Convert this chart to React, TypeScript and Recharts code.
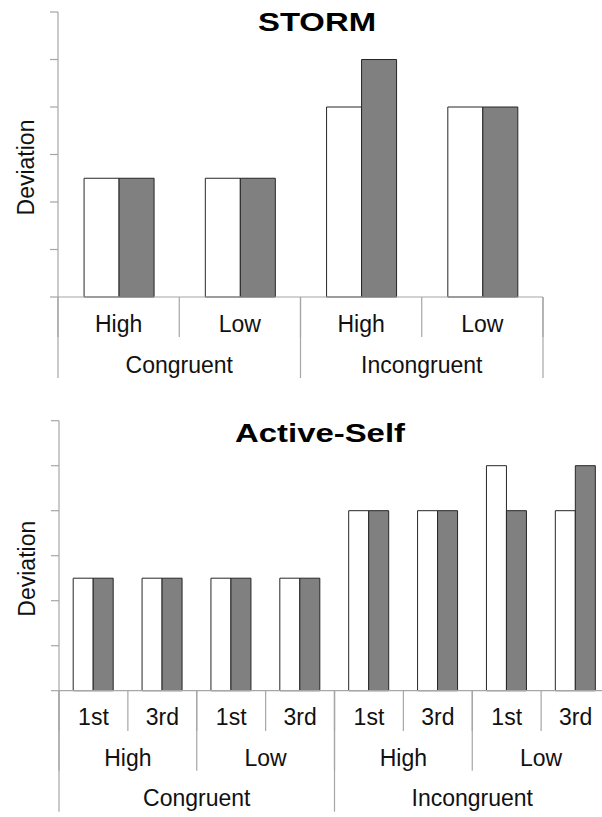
import React from 'react';
import { BarChart, Bar, XAxis, YAxis, Label } from 'recharts';

// STORM panel
const stormLevel = ['High', 'Low', 'High', 'Low'];
const stormCongruency = ['Congruent', 'Congruent', 'Incongruent', 'Incongruent'];
const stormWhite = [2.5, 2.5, 4, 4];
const stormGray = [2.5, 2.5, 5, 4];

// Active-Self panel
const selfPerspective = ['1st', '3rd', '1st', '3rd', '1st', '3rd', '1st', '3rd'];
const selfLevel = ['High', 'High', 'Low', 'Low', 'High', 'High', 'Low', 'Low'];
const selfCongruency = [
  'Congruent', 'Congruent', 'Congruent', 'Congruent',
  'Incongruent', 'Incongruent', 'Incongruent', 'Incongruent',
];
const selfWhite = [2.5, 2.5, 2.5, 2.5, 4, 4, 5, 4];
const selfGray = [2.5, 2.5, 2.5, 2.5, 4, 4, 4, 5];

const yTicks = [0, 1, 2, 3, 4, 5, 6];

const AXIS = '#a6a6a6';
const EDGE = '#262626';
const GREY = '#808080';
const FONT = '"Liberation Sans", Arial, Helvetica, sans-serif';

const stormData = stormLevel.map((label, i) => ({
  label,
  white: stormWhite[i],
  gray: stormGray[i],
}));

const selfData = selfPerspective.map((label, i) => ({
  label,
  white: selfWhite[i],
  gray: selfGray[i],
}));

// nested category axis: labels per level (inner first), separators between groups
function makeTick(levels: string[][], band: number, lineDrop: number[], textDrop: number[]) {
  const n = levels[0].length;
  const keyAt = (L: number, j: number) => levels.slice(L).map((l) => l[j]).join('|');
  return (props: any) => {
    const { x, y, payload } = props;
    const i: number = props.index ?? payload.index;
    const half = band / 2;
    const parts: React.ReactNode[] = [];
    levels.forEach((labels, L) => {
      const k = keyAt(L, i);
      if (i > 0 && keyAt(L, i - 1) === k) return;
      let run = 1;
      while (i + run < n && keyAt(L, i + run) === k) run++;
      const left = x - half;
      parts.push(
        <line key={'l' + L} x1={left} x2={left} y1={y} y2={y + lineDrop[L]} stroke={AXIS} strokeWidth={1.2} />
      );
      if (i + run === n) {
        const right = left + run * band;
        parts.push(
          <line key={'r' + L} x1={right} x2={right} y1={y} y2={y + lineDrop[L]} stroke={AXIS} strokeWidth={1.2} />
        );
      }
      parts.push(
        <text
          key={'t' + L}
          x={left + (run * band) / 2}
          y={y + textDrop[L]}
          textAnchor="middle"
          fontSize={23}
          fontFamily={FONT}
          fill="#111"
        >
          {labels[i]}
        </text>
      );
    });
    return <g>{parts}</g>;
  };
}

const noTick = () => <g />;

const deviationLabel = (dy: number) => (props: any) => {
  const vb = props.viewBox || { x: 0, y: 0, width: 0, height: 0 };
  const tx = vb.x + 26;
  const ty = vb.y + vb.height / 2 + dy;
  return (
    <text
      x={tx}
      y={ty}
      transform={`rotate(-90, ${tx}, ${ty})`}
      textAnchor="middle"
      fontSize={23}
      fontFamily={FONT}
      fill="#111"
    >
      Deviation
    </text>
  );
};

const STORM_BAND = (602 - 8 - 50 - 59) / stormData.length;
const SELF_BAND = (620 - 9 - 50 - 10) / selfData.length;

export default function App() {
  return (
    <div
      style={{
        position: 'absolute',
        top: 0,
        left: 0,
        width: 602,
        height: 817,
        overflow: 'hidden',
        background: '#fff',
        fontFamily: FONT,
      }}
    >
      <div style={{ position: 'absolute', top: 0, left: 0 }}>
        <BarChart
          width={602}
          height={400}
          data={stormData}
          margin={{ top: 12, right: 59, bottom: 13, left: 8 }}
          barCategoryGap="21.5%"
          barGap={0}
        >
          <XAxis
            dataKey="label"
            interval={0}
            height={90}
            tickSize={0}
            tickMargin={0}
            tickLine={false}
            axisLine={{ stroke: AXIS, strokeWidth: 1.2 }}
            tick={makeTick([stormLevel, stormCongruency], STORM_BAND, [40, 81], [35, 76])}
          />
          <YAxis
            type="number"
            domain={[0, 6]}
            ticks={yTicks}
            interval={0}
            width={50}
            tickSize={8}
            tick={noTick}
            tickLine={{ stroke: AXIS, strokeWidth: 1.2 }}
            axisLine={{ stroke: AXIS, strokeWidth: 1.2 }}
          >
            <Label content={deviationLabel(13)} />
          </YAxis>
          <Bar dataKey="white" fill="#ffffff" stroke={EDGE} strokeWidth={1} isAnimationActive={false} />
          <Bar dataKey="gray" fill={GREY} stroke={EDGE} strokeWidth={1} isAnimationActive={false} />
        </BarChart>
      </div>

      <div style={{ position: 'absolute', top: 400, left: 0 }}>
        <BarChart
          width={620}
          height={417}
          data={selfData}
          margin={{ top: 20.7, right: 10, bottom: 6.3, left: 9 }}
          barCategoryGap="20.6%"
          barGap={0}
        >
          <XAxis
            dataKey="label"
            interval={0}
            height={120}
            tickSize={0}
            tickMargin={0}
            tickLine={false}
            axisLine={{ stroke: AXIS, strokeWidth: 1.2 }}
            tick={makeTick(
              [selfPerspective, selfLevel, selfCongruency],
              SELF_BAND,
              [40.3, 80, 121],
              [34.5, 75, 115]
            )}
          />
          <YAxis
            type="number"
            domain={[0, 6]}
            ticks={yTicks}
            interval={0}
            width={50}
            tickSize={8}
            tick={noTick}
            tickLine={{ stroke: AXIS, strokeWidth: 1.2 }}
            axisLine={{ stroke: AXIS, strokeWidth: 1.2 }}
          >
            <Label content={deviationLabel(13)} />
          </YAxis>
          <Bar dataKey="white" fill="#ffffff" stroke={EDGE} strokeWidth={1} isAnimationActive={false} />
          <Bar dataKey="gray" fill={GREY} stroke={EDGE} strokeWidth={1} isAnimationActive={false} />
        </BarChart>
      </div>

      <svg
        width={602}
        height={817}
        style={{ position: 'absolute', top: 0, left: 0, pointerEvents: 'none' }}
      >
        <text
          x={317}
          y={30.5}
          textAnchor="middle"
          fontSize={25}
          fontWeight="bold"
          fontFamily={FONT}
          fill="#000"
          textLength={118}
          lengthAdjust="spacingAndGlyphs"
        >
          STORM
        </text>
        <text
          x={320}
          y={441.5}
          textAnchor="middle"
          fontSize={26}
          fontWeight="bold"
          fontFamily={FONT}
          fill="#000"
          textLength={170}
          lengthAdjust="spacingAndGlyphs"
        >
          Active-Self
        </text>
      </svg>
    </div>
  );
}
